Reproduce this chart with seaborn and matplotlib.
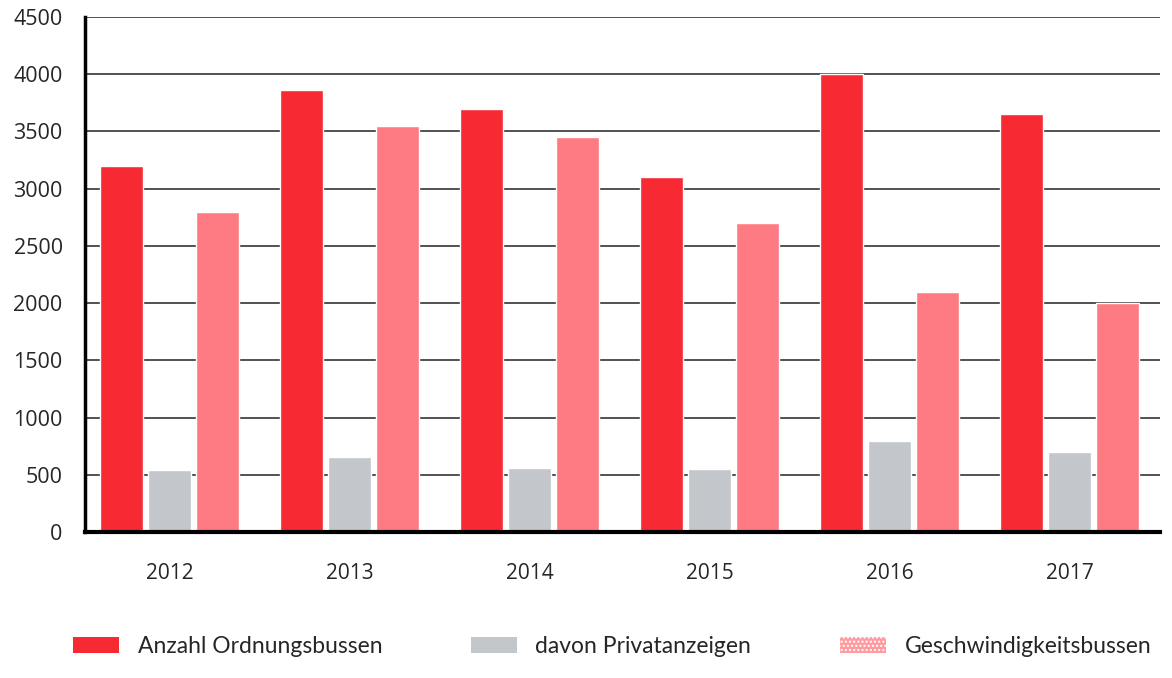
import pandas as pd
import matplotlib
matplotlib.use("Agg")
import matplotlib.pyplot as plt
from matplotlib.patches import Patch
import seaborn as sns

# Data
years = ["2012", "2013", "2014", "2015", "2016", "2017"]
ordnungsbussen = [3200, 3860, 3700, 3100, 4000, 3650]
privatanzeigen = [540, 660, 560, 550, 800, 700]
geschwindigkeit = [2800, 3550, 3450, 2700, 2100, 2000]
series_names = ["Anzahl Ordnungsbussen", "davon Privatanzeigen", "Geschwindigkeitsbussen"]
colors = ["#F72A33", "#C3C6CB", "#FF7B83"]

df = pd.DataFrame({
    "Jahr": years * 3,
    "Wert": ordnungsbussen + privatanzeigen + geschwindigkeit,
    "Serie": [series_names[0]] * 6 + [series_names[1]] * 6 + [series_names[2]] * 6,
})

sns.set_style("white")
plt.rcParams["font.family"] = ["Open Sans", "DejaVu Sans"]

fig = plt.figure(figsize=(11.72, 6.78), dpi=100)
ax = fig.add_axes([0.0725, 0.215, 0.917, 0.76])

sns.barplot(data=df, x="Jahr", y="Wert", hue="Serie", palette=colors,
            width=0.8, gap=0.1, saturation=1, ax=ax, legend=False)

ax.set_ylim(0, 4500)
ax.set_xlim(-0.47, 5.5)
ax.set_yticks(range(0, 4501, 500))
ax.yaxis.grid(True, color="#333333", linewidth=1.2)
ax.set_axisbelow(True)
ax.set_xlabel("")
ax.set_ylabel("")

for side in ["top", "right"]:
    ax.spines[side].set_visible(False)
ax.spines["left"].set_linewidth(2.5)
ax.spines["left"].set_color("black")
ax.spines["bottom"].set_linewidth(3)
ax.spines["bottom"].set_color("black")

ax.tick_params(axis="y", length=0, pad=16, labelsize=15.5)
ax.tick_params(axis="x", length=0, pad=22, labelsize=15)

# Legend along the bottom
handles = [
    Patch(facecolor=colors[0], edgecolor="none"),
    Patch(facecolor=colors[1], edgecolor="none"),
    Patch(facecolor="#FF9AA0", edgecolor="white", hatch="....", linewidth=0),
]
fig.legend(handles, series_names, loc="lower left", ncol=3,
           bbox_to_anchor=(0.045, 0.0, 0.955, 0.07), mode="expand",
           frameon=False, prop={"family": "Lato", "size": 16.5},
           handlelength=2.0, handleheight=0.7, handletextpad=0.8)

fig.savefig("out.png", dpi=100)
